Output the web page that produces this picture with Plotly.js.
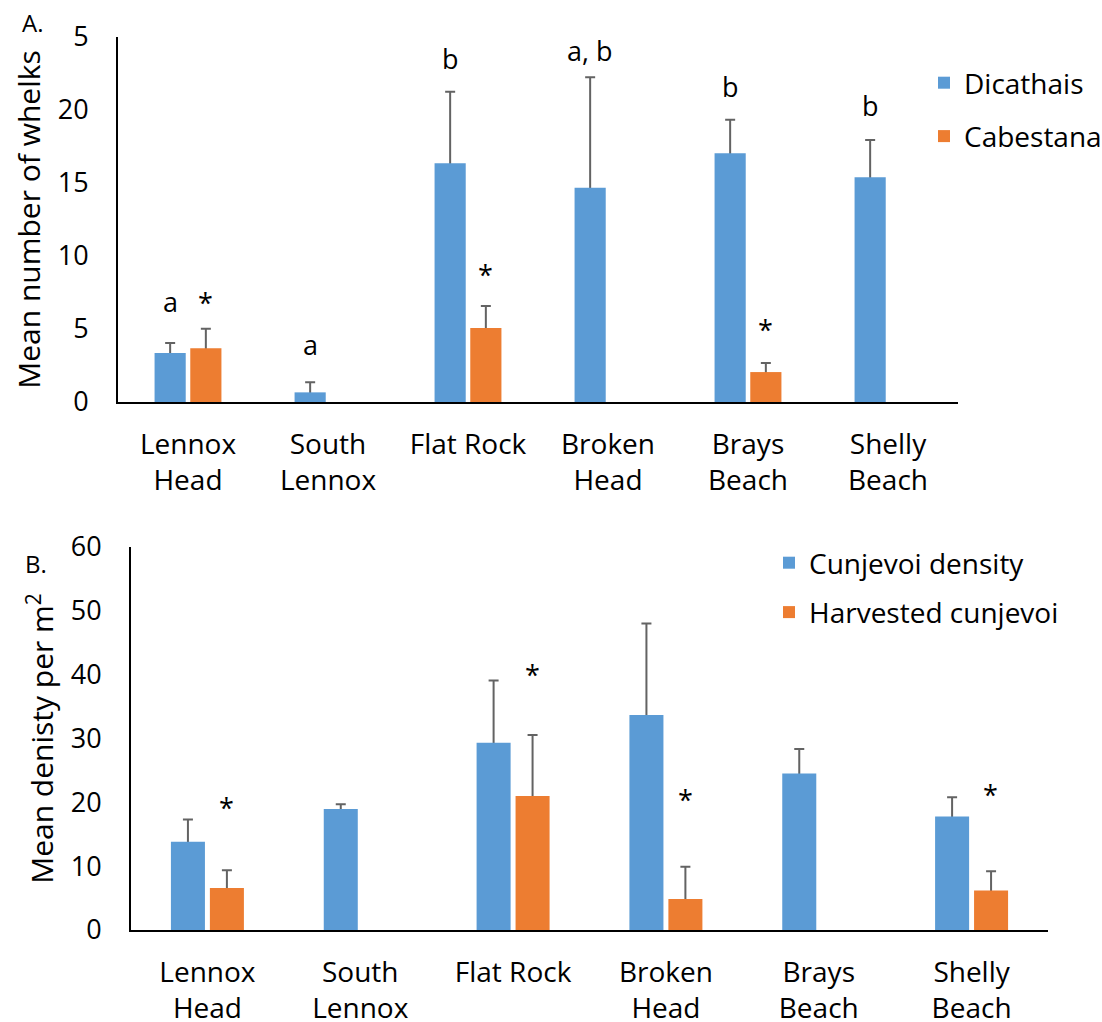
<!DOCTYPE html>
<html><head><meta charset="utf-8">
<script src="https://cdn.plot.ly/plotly-3.0.1.min.js"></script>
<style>html,body{margin:0;padding:0;background:#fff}#chart{width:1102px;height:1022px}</style>
</head><body><div id="chart"></div><script>
// ---- data (panel A: whelks) ----
const sites = ['Lennox<br>Head','South<br>Lennox','Flat Rock','Broken<br>Head','Brays<br>Beach','Shelly<br>Beach'];
const dicathais = [3.36, 0.66, 16.35, 14.68, 17.03, 15.4];
const dicathaisErr = [0.68, 0.69, 4.9, 7.56, 2.31, 2.55];
const cabestana = [3.68, null, 5.07, null, 2.05, null];
const cabestanaErr = [1.34, null, 1.5, null, 0.62, null];
const dicathaisLetters = ['a', 'a', 'b', 'a, b', 'b', 'b'];
const dicathaisLetterY = [6.9, 3.97, 23.56, 24.1, 21.6, 20.3];
const cabestanaStars = ['*', '', '*', '', '*', ''];
const cabestanaStarY = [6.8, null, 8.7, null, 4.96, null];
// top tick of panel A: the "2" of 25 is hidden behind the "A." label in the original
const whelkTickVals = [0, 5, 10, 15, 20, 25];
const whelkTickText = ['0', '5', '10', '15', '20', '5'];

// ---- data (panel B: cunjevoi) ----
const cunjevoi = [13.83, 18.96, 29.35, 33.7, 24.5, 17.8];
const cunjevoiErr = [3.5, 0.74, 9.75, 14.3, 3.87, 3.0];
const harvested = [6.58, null, 21.0, 4.86, null, 6.2];
const harvestedErr = [2.77, null, 9.55, 5.06, null, 3.0];
const harvestedStars = ['*', '', '*', '*', '', '*'];
const harvestedStarY = [19.2, null, 40.1, 20.4, null, 21.2];

const BLUE = '#5B9BD5', ORANGE = '#ED7D31', ERR = '#636363';
const FONT = 'Open Sans, sans-serif';
function errSpec(arr){ return {type:'data', symmetric:true, array:arr, color:ERR, thickness:2, width:5}; }

// error bars live on a base subplot (transparent bars); the opaque bars sit on an overlaying
// subplot with identical range so they hide the lower half of each error bar (plus-only look)
const traces = [
  {type:'bar', name:'Dicathais', x:sites, y:dicathais, error_y:errSpec(dicathaisErr), marker:{color:'rgba(0,0,0,0)'}, xaxis:'x', yaxis:'y', showlegend:false},
  {type:'bar', name:'Cabestana', x:sites, y:cabestana, error_y:errSpec(cabestanaErr), marker:{color:'rgba(0,0,0,0)'}, xaxis:'x', yaxis:'y', showlegend:false},
  {type:'bar', name:'Dicathais', x:sites, y:dicathais, marker:{color:BLUE}, xaxis:'x', yaxis:'y3', legend:'legend', legendgroup:'a1'},
  {type:'bar', name:'Cabestana', x:sites, y:cabestana, marker:{color:ORANGE}, xaxis:'x', yaxis:'y3', legend:'legend', legendgroup:'a2'},

  {type:'bar', name:'Cunjevoi density', x:sites, y:cunjevoi, error_y:errSpec(cunjevoiErr), marker:{color:'rgba(0,0,0,0)'}, xaxis:'x2', yaxis:'y2', showlegend:false},
  {type:'bar', name:'Harvested cunjevoi', x:sites, y:harvested, error_y:errSpec(harvestedErr), marker:{color:'rgba(0,0,0,0)'}, xaxis:'x2', yaxis:'y2', showlegend:false},
  {type:'bar', name:'Cunjevoi density', x:sites, y:cunjevoi, marker:{color:BLUE}, xaxis:'x2', yaxis:'y4', legend:'legend2', legendgroup:'b1'},
  {type:'bar', name:'Harvested cunjevoi', x:sites, y:harvested, marker:{color:ORANGE}, xaxis:'x2', yaxis:'y4', legend:'legend2', legendgroup:'b2'}
];

const OFF = 0.127;
const annotations = [];
sites.forEach((s,i) => {
  if (dicathaisLetters[i]) annotations.push({xref:'x', yref:'y', x:i-OFF, y:dicathaisLetterY[i], text:dicathaisLetters[i], showarrow:false, font:{size:27}});
  if (cabestanaStars[i]) annotations.push({xref:'x', yref:'y', x:i+OFF, y:cabestanaStarY[i], text:cabestanaStars[i], showarrow:false, font:{size:27}});
  if (harvestedStars[i]) annotations.push({xref:'x2', yref:'y2', x:i+OFF, y:harvestedStarY[i], text:harvestedStars[i], showarrow:false, font:{size:27}});
});
annotations.push({xref:'paper', yref:'paper', x:20/1102, y:1-22/1022, xanchor:'left', yanchor:'middle', text:'A.', showarrow:false, font:{size:24}});
annotations.push({xref:'paper', yref:'paper', x:23/1102, y:1-563/1022, xanchor:'left', yanchor:'middle', text:'B.', showarrow:false, font:{size:24}});

const axX = {type:'category', showline:true, linecolor:'#000', linewidth:2, ticks:'', showgrid:false, zeroline:false, ticklabelstandoff:16, range:[-0.5,5.5], fixedrange:true, tickfont:{family:FONT, size:28, color:'#000'}};
const axY = {showline:true, linecolor:'#000', linewidth:2, ticks:'', showgrid:false, zeroline:false, ticklabelstandoff:22, fixedrange:true, tickfont:{family:FONT, size:27, color:'#000'}};
const domA = [1-402/1022, 1-37/1022], domB = [1-930/1022, 1-547/1022];
const titleFont = {family:FONT, size:30, color:'#000'};

const layout = {
  width:1102, height:1022, margin:{l:0,r:0,t:0,b:0, autoexpand:false},
  paper_bgcolor:'#fff', plot_bgcolor:'#fff',
  font:{family:FONT, size:26, color:'#000'},
  barmode:'group', bargap:0.49, bargroupgap:0.127,
  showlegend:true,
  xaxis:Object.assign({}, axX, {domain:[118/1102, 958/1102], anchor:'y'}),
  yaxis:Object.assign({}, axY, {domain:domA, anchor:'x', range:[0,25], tickmode:'array', tickvals:whelkTickVals, ticktext:whelkTickText, title:{text:'Mean number of whelks', standoff:8, font:titleFont}}),
  yaxis3:{overlaying:'y', domain:domA, range:[0,25], visible:false, fixedrange:true},
  xaxis2:Object.assign({}, axX, {domain:[131/1102, 1048/1102], anchor:'y2'}),
  yaxis2:Object.assign({}, axY, {domain:domB, anchor:'x2', range:[0,60], dtick:10, title:{text:'Mean denisty per m<sup>2</sup>', standoff:8, font:titleFont}}),
  yaxis4:{overlaying:'y2', domain:domB, range:[0,60], visible:false, fixedrange:true},
  legend:{x:924/1102, y:1-58/1022, xanchor:'left', yanchor:'top', tracegroupgap:14, font:{family:FONT, size:28, color:'#000'}, bgcolor:'rgba(0,0,0,0)'},
  legend2:{x:769/1102, y:1-538/1022, xanchor:'left', yanchor:'top', tracegroupgap:10, font:{family:FONT, size:28, color:'#000'}, bgcolor:'rgba(0,0,0,0)'},
  annotations:annotations
};

Plotly.newPlot('chart', traces, layout, {displayModeBar:false, staticPlot:true});
</script></body></html>
